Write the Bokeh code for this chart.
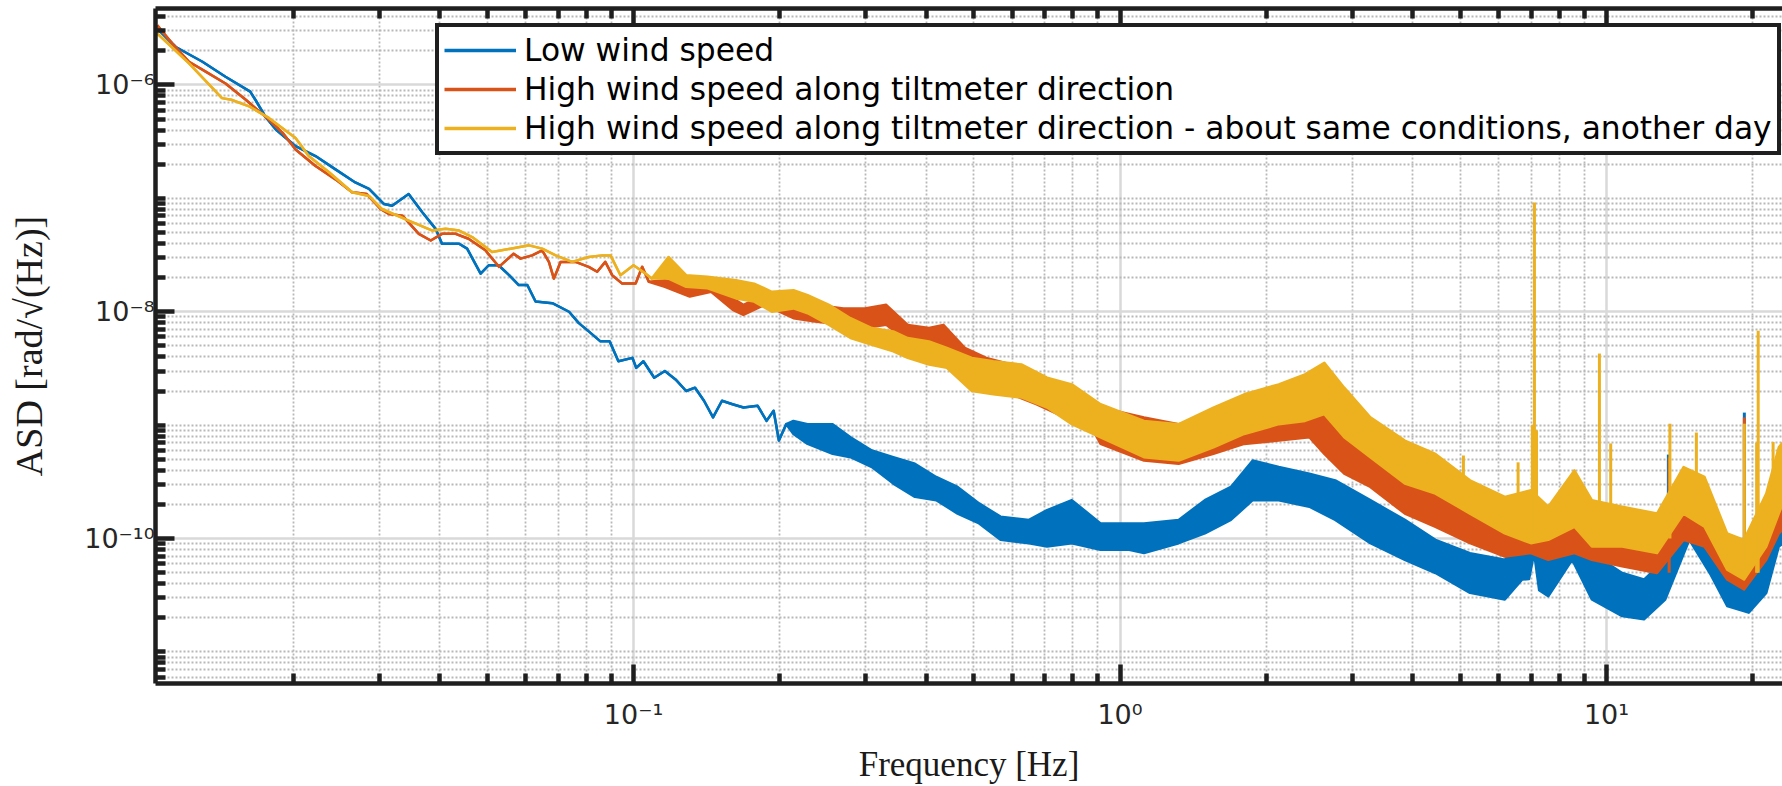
from bokeh.plotting import figure
from bokeh.models import (ColumnDataSource, FixedTicker, CustomJSTickFormatter,
                          LogAxis, Legend, LegendItem)
from bokeh.embed import file_html
from bokeh.resources import INLINE

# ---------------- data ----------------
series_names = [
    "Low wind speed",
    "High wind speed along tiltmeter direction",
    "High wind speed along tiltmeter direction - about same conditions, another day",
]
series_colors = ["#0072BD", "#D95319", "#EDB120"]

# Low wind speed: thin-line part (freq [Hz], ASD)
low_line_f = [0.0105, 0.01146, 0.0130, 0.0145, 0.0163, 0.0167, 0.0175, 0.0184, 0.0202, 0.0222,
              0.0244, 0.0268, 0.0286, 0.0307, 0.0319, 0.0345, 0.0368, 0.0392, 0.0404, 0.0438,
              0.0455, 0.0485, 0.0504, 0.0528, 0.0555, 0.0581, 0.0605, 0.0629, 0.0681, 0.0737,
              0.0772, 0.0809, 0.0855, 0.0893, 0.0931, 0.0995, 0.1013, 0.1048, 0.1103, 0.116,
              0.122, 0.1283, 0.1338, 0.1396, 0.1457, 0.152, 0.1598, 0.1683, 0.180, 0.1877,
              0.1941, 0.199, 0.206]
low_line_v = [3.13e-6, 2.16e-6, 1.60e-6, 1.18e-6, 8.73e-7, 7.40e-7, 5.28e-7, 4.04e-7, 2.88e-7, 2.36e-7,
              1.80e-7, 1.38e-7, 1.21e-7, 8.91e-8, 8.61e-8, 1.09e-7, 7.54e-8, 5.38e-8, 3.98e-8, 3.98e-8,
              3.60e-8, 2.17e-8, 2.57e-8, 2.57e-8, 2.10e-8, 1.72e-8, 1.72e-8, 1.23e-8, 1.19e-8, 1.00e-8,
              7.93e-9, 6.71e-9, 5.48e-9, 5.48e-9, 3.66e-9, 3.92e-9, 3.20e-9, 3.66e-9, 2.62e-9, 3.00e-9,
              2.53e-9, 2.00e-9, 2.14e-9, 1.64e-9, 1.17e-9, 1.64e-9, 1.53e-9, 1.43e-9, 1.48e-9, 1.09e-9,
              1.34e-9, 7.31e-10, 1.02e-9]
# Low wind speed: noisy band part (freq, upper edge, lower edge)
low_band_f = [0.2132, 0.228, 0.2566, 0.2793, 0.309, 0.342, 0.3788, 0.419, 0.4636, 0.5134,
              0.568, 0.650, 0.708, 0.796, 0.912, 1.044, 1.12, 1.32, 1.494, 1.69,
              1.874, 2.12, 2.45, 2.77, 3.27, 3.85, 4.45, 5.24, 6.18, 6.71,
              6.93, 7.10, 7.27, 7.59, 8.50, 9.33, 10.77, 11.94, 13.2, 14.8,
              16.3, 17.7, 19.6, 21.3, 22.6, 23.0]
low_band_hi = [1.09e-9, 1.02e-9, 1.02e-9, 7.82e-10, 5.97e-10, 5.22e-10, 4.56e-10, 3.49e-10, 2.85e-10, 2.04e-10,
               1.56e-10, 1.46e-10, 1.78e-10, 2.18e-10, 1.36e-10, 1.36e-10, 1.36e-10, 1.46e-10, 2.18e-10, 2.85e-10,
               4.88e-10, 4.27e-10, 3.73e-10, 3.26e-10, 2.18e-10, 1.46e-10, 9.74e-11, 7.44e-11, 6.50e-11, 9.74e-11,
               9.10e-11, 2.49e-10, 8.00e-11, 7.44e-11, 1.46e-10, 7.44e-11, 4.97e-11, 4.35e-11, 6.50e-11, 2.18e-10,
               1.11e-10, 4.35e-11, 3.80e-11, 7.44e-11, 1.91e-10, 2.20e-10]
low_band_lo = [8.36e-10, 6.83e-10, 5.58e-10, 5.22e-10, 4.27e-10, 3.05e-10, 2.33e-10, 2.18e-10, 1.66e-10, 1.36e-10,
               9.74e-11, 9.10e-11, 8.51e-11, 9.10e-11, 7.96e-11, 7.96e-11, 7.44e-11, 9.10e-11, 1.11e-10, 1.46e-10,
               2.18e-10, 2.18e-10, 1.91e-10, 1.46e-10, 9.10e-11, 6.50e-11, 4.97e-11, 3.32e-11, 2.90e-11, 4.35e-11,
               4.40e-11, 7.44e-11, 3.50e-11, 3.10e-11, 6.50e-11, 2.90e-11, 2.07e-11, 1.94e-11, 2.90e-11, 9.74e-11,
               4.97e-11, 2.54e-11, 2.22e-11, 3.32e-11, 8.51e-11, 9.00e-11]
low_spike_f = [13.4, 19.2]
low_spike_base = [5.0e-11, 5.0e-11]
low_spike_top = [5.5e-10, 1.29e-9]

# High wind speed
high_line_f = [0.0105, 0.01127, 0.0122, 0.0132, 0.0145, 0.01596, 0.0178, 0.0190, 0.0202, 0.0222,
               0.0244, 0.0264, 0.0283, 0.0302, 0.0314, 0.0335, 0.0362, 0.0383, 0.0404, 0.0431,
               0.0458, 0.0496, 0.0529, 0.0567, 0.0586, 0.0619, 0.0649, 0.0670, 0.0686, 0.0708,
               0.0760, 0.0809, 0.0842, 0.0875, 0.0904, 0.0948, 0.101, 0.1042, 0.1075]
high_line_v = [3.35e-6, 2.32e-6, 1.60e-6, 1.31e-6, 1.03e-6, 7.40e-7, 4.94e-7, 3.78e-7, 2.70e-7, 1.93e-7,
               1.47e-7, 1.13e-7, 1.09e-7, 8.05e-8, 7.28e-8, 7.04e-8, 4.86e-8, 4.25e-8, 4.86e-8, 4.86e-8,
               4.40e-8, 3.48e-8, 2.49e-8, 3.25e-8, 2.94e-8, 3.14e-8, 3.48e-8, 2.75e-8, 1.96e-8, 2.75e-8,
               2.75e-8, 2.49e-8, 2.25e-8, 2.75e-8, 2.10e-8, 1.77e-8, 1.77e-8, 2.49e-8, 1.84e-8]
high_band_f = [0.116, 0.1305, 0.1444, 0.160, 0.1682, 0.186, 0.2132, 0.236, 0.270, 0.2988,
               0.3307, 0.366, 0.405, 0.4335, 0.4797, 0.531, 0.5975, 0.6724, 0.770, 0.882,
               0.912, 1.12, 1.32, 1.556, 1.80, 2.12, 2.45, 2.63, 2.89, 3.27,
               3.85, 4.45, 5.24, 6.18, 6.99, 7.59, 8.59, 9.33, 10.77, 12.7,
               14.4, 15.9, 17.7, 19.17, 21.3, 22.6, 23.0]
high_band_hi = [1.90e-8, 1.72e-8, 1.90e-8, 1.31e-8, 1.15e-8, 1.40e-8, 1.23e-8, 1.15e-8, 1.07e-8, 1.07e-8,
                1.15e-8, 7.66e-9, 7.18e-9, 7.66e-9, 4.80e-9, 3.92e-9, 3.42e-9, 2.45e-9, 2.00e-9, 1.53e-9,
                1.43e-9, 1.17e-9, 1.02e-9, 1.17e-9, 1.25e-9, 1.34e-9, 1.53e-9, 1.25e-9, 9.55e-10, 6.38e-10,
                3.73e-10, 2.85e-10, 1.91e-10, 1.27e-10, 1.66e-10, 1.27e-10, 1.66e-10, 1.27e-10, 1.11e-10, 9.74e-11,
                2.18e-10, 1.66e-10, 7.44e-11, 6.50e-11, 1.46e-10, 2.49e-10, 2.60e-10]
high_band_lo = [1.66e-8, 1.36e-8, 1.50e-8, 1.04e-8, 9.38e-9, 1.15e-8, 8.77e-9, 8.20e-9, 7.66e-9, 7.18e-9,
                7.66e-9, 5.48e-9, 5.12e-9, 4.48e-9, 3.00e-9, 2.29e-9, 1.87e-9, 1.53e-9, 1.17e-9, 8.93e-10,
                6.83e-10, 4.88e-10, 4.56e-10, 5.58e-10, 6.83e-10, 7.31e-10, 7.82e-10, 5.58e-10, 3.73e-10, 2.85e-10,
                1.66e-10, 1.27e-10, 9.10e-11, 6.95e-11, 7.44e-11, 6.50e-11, 7.44e-11, 6.50e-11, 5.69e-11, 4.97e-11,
                9.74e-11, 8.51e-11, 4.35e-11, 3.56e-11, 6.50e-11, 1.11e-10, 1.20e-10]
high_spike_f = [13.45, 19.2]
high_spike_base = [5.0e-11, 4.0e-11]
high_spike_top = [5.2e-10, 1.17e-9]

# High wind speed, another day
day2_line_f = [0.0105, 0.0122, 0.01426, 0.0149, 0.01622, 0.0178, 0.0202, 0.0215, 0.0237, 0.0264,
               0.0286, 0.0304, 0.0345, 0.0386, 0.0411, 0.0438, 0.0466, 0.0512, 0.0559, 0.0610,
               0.0649, 0.0692, 0.0748, 0.0809, 0.0862, 0.0897, 0.0940, 0.100, 0.1058, 0.109]
day2_line_v = [2.84e-6, 1.55e-6, 7.65e-7, 7.40e-7, 6.46e-7, 5.12e-7, 3.41e-7, 2.36e-7, 1.69e-7, 1.13e-7,
               1.05e-7, 8.05e-8, 6.37e-8, 5.20e-8, 5.38e-8, 5.20e-8, 4.55e-8, 3.37e-8, 3.60e-8, 3.85e-8,
               3.60e-8, 3.14e-8, 2.75e-8, 3.04e-8, 3.14e-8, 3.14e-8, 2.10e-8, 2.57e-8, 2.17e-8, 1.96e-8]
day2_band_f = [0.118, 0.1283, 0.142, 0.1625, 0.177, 0.1925, 0.2132, 0.228, 0.2523, 0.2793,
               0.309, 0.342, 0.366, 0.405, 0.4406, 0.496, 0.549, 0.6284, 0.708, 0.796,
               0.912, 1.12, 1.32, 1.556, 1.80, 2.12, 2.40, 2.63, 2.89, 3.27,
               3.85, 4.45, 5.24, 6.18, 6.99, 7.59, 8.59, 9.33, 10.77, 12.7,
               14.4, 15.9, 17.7, 19.17, 21.3, 22.6, 23.0]
day2_band_hi = [3.04e-8, 2.10e-8, 2.03e-8, 1.90e-8, 1.77e-8, 1.50e-8, 1.55e-8, 1.40e-8, 1.15e-8, 8.77e-9,
                7.18e-9, 6.71e-9, 5.86e-9, 5.48e-9, 4.80e-9, 3.92e-9, 3.66e-9, 3.42e-9, 2.62e-9, 2.29e-9,
                1.53e-9, 1.09e-9, 1.02e-9, 1.43e-9, 1.87e-9, 2.29e-9, 2.80e-9, 3.54e-9, 2.14e-9, 1.17e-9,
                7.31e-10, 5.58e-10, 3.26e-10, 2.33e-10, 2.67e-10, 1.91e-10, 3.99e-10, 2.18e-10, 1.91e-10, 1.66e-10,
                4.27e-10, 3.49e-10, 1.11e-10, 9.74e-11, 2.49e-10, 6.38e-10, 7.00e-10]
day2_band_lo = [1.96e-8, 1.66e-8, 1.61e-8, 1.31e-8, 1.23e-8, 1.00e-8, 1.07e-8, 9.70e-9, 7.66e-9, 5.86e-9,
                5.12e-9, 4.48e-9, 3.92e-9, 3.42e-9, 3.20e-9, 2.00e-9, 1.87e-9, 1.75e-9, 1.43e-9, 1.02e-9,
                7.82e-10, 5.22e-10, 4.88e-10, 6.38e-10, 8.36e-10, 1.02e-9, 1.09e-9, 1.25e-9, 7.82e-10, 5.22e-10,
                3.05e-10, 2.49e-10, 1.66e-10, 1.11e-10, 9.10e-11, 9.74e-11, 1.27e-10, 8.51e-11, 8.51e-11, 7.44e-11,
                1.66e-10, 1.27e-10, 5.32e-11, 4.35e-11, 8.51e-11, 1.66e-10, 2.00e-10]
day2_spike_f = [5.08, 6.58, 7.04, 7.11, 7.18, 9.67, 10.2, 13.5, 15.3, 19.2, 20.35, 20.5, 22.0]
day2_spike_base = [2.0e-10, 1.5e-10, 1.0e-10, 1.0e-10, 1.0e-10, 1.0e-10, 1.0e-10, 1.0e-10, 1.5e-10,
                   5.0e-11, 5.0e-11, 5.0e-11, 2.0e-10]
day2_spike_top = [5.4e-10, 4.7e-10, 1.0e-9, 9.2e-8, 9.0e-10, 4.28e-9, 6.9e-10, 1.03e-9, 8.6e-10,
                  1.03e-9, 7.0e-10, 6.8e-9, 7.1e-10]

# axes
x_limits = (0.01041, 23.0)
y_limits = (5.27e-12, 4.72e-6)
x_major = [0.1, 1.0, 10.0]
x_major_labels = ["10\u207b\u00b9", "10\u2070", "10\u00b9"]
y_major = [1e-10, 1e-8, 1e-6]
y_major_labels = ["10\u207b\u00b9\u2070", "10\u207b\u2078", "10\u207b\u2076"]
x_label = "Frequency [Hz]"
y_label = "ASD [rad/\u221a(Hz)]"

x_minor = [k * 10.0 ** e for e in range(-2, 2) for k in range(1, 10)
           if not any(abs(k * 10.0 ** e - m) < 1e-12 for m in x_major)]
y_minor = [k * 10.0 ** e for e in range(-12, -5) for k in range(1, 10)
           if not any(abs(k * 10.0 ** e / m - 1) < 1e-9 for m in y_major)]

# ---------------- figure ----------------
p = figure(width=1782, height=786, x_axis_type="log", y_axis_type="log",
           x_range=x_limits, y_range=y_limits,
           output_backend="svg", toolbar_location=None,
           min_border_left=155, min_border_right=0, min_border_top=8, min_border_bottom=98,
           styles={"vertical-align": "top"})
p.outline_line_color = None
p.background_fill_color = "white"
p.border_fill_color = "white"

AX = "#1f1f1f"


def fmt(vals, labs):
    return CustomJSTickFormatter(args=dict(vals=vals, labs=labs), code="""
        const i = vals.findIndex(v => Math.abs(Math.log10(v) - Math.log10(tick)) < 1e-6);
        return i >= 0 ? labs[i] : "";
    """)


def style_axis(ax):
    ax.axis_line_color = AX
    ax.axis_line_width = 4.5
    ax.major_tick_line_color = AX
    ax.major_tick_line_width = 4.5
    ax.minor_tick_line_color = AX
    ax.minor_tick_line_width = 4.5
    ax.major_tick_in = 19
    ax.major_tick_out = 0
    ax.minor_tick_in = 10
    ax.minor_tick_out = 0
    ax.major_label_text_font = "DejaVu Sans"
    ax.major_label_text_font_size = "27px"
    ax.major_label_text_color = "#262626"
    ax.axis_label_text_font = "Liberation Serif"
    ax.axis_label_text_font_size = "35px"
    ax.axis_label_text_font_style = "normal"
    ax.axis_label_text_color = "#1a1a1a"


xt = FixedTicker(ticks=x_major, minor_ticks=x_minor)
yt = FixedTicker(ticks=y_major, minor_ticks=y_minor)

xa = p.xaxis[0]
xa.ticker = xt
xa.formatter = fmt(x_major, x_major_labels)
style_axis(xa)
xa.axis_label = x_label
xa.major_label_standoff = 15
xa.axis_label_standoff = 12

ya = p.yaxis[0]
ya.ticker = yt
ya.formatter = fmt(y_major, y_major_labels)
style_axis(ya)
ya.axis_label = y_label
ya.axis_label_text_font_size = "38px"
ya.major_label_standoff = 1
ya.axis_label_standoff = 31

top = LogAxis(ticker=xt, formatter=fmt([], []))
style_axis(top)
top.major_label_text_font_size = "0px"
top.major_label_standoff = 0
p.add_layout(top, "above")

for g in (p.xgrid[0], p.ygrid[0]):
    g.grid_line_color = "#d9d9d9"
    g.grid_line_width = 2.5
    g.minor_grid_line_color = "#b8b8b8"
    g.minor_grid_line_width = 1.8
    g.minor_grid_line_dash = "2 2"

# ---------------- series ----------------
series = [
    (low_line_f, low_line_v, low_band_f, low_band_hi, low_band_lo, low_spike_f, low_spike_base, low_spike_top),
    (high_line_f, high_line_v, high_band_f, high_band_hi, high_band_lo, high_spike_f, high_spike_base, high_spike_top),
    (day2_line_f, day2_line_v, day2_band_f, day2_band_hi, day2_band_lo, day2_spike_f, day2_spike_base, day2_spike_top),
]

items = []
for (lf, lv, bf, bh, bl, sf, sb, st), name, col in zip(series, series_names, series_colors):
    f = lf + bf
    hi = lv + bh
    lo = lv + bl
    src = ColumnDataSource(dict(f=f, hi=hi, lo=lo))
    p.varea(x="f", y1="lo", y2="hi", source=src, fill_color=col, fill_alpha=1.0)
    p.line(x="f", y="hi", source=src, line_color=col, line_width=2.5, line_join="round")
    p.line(x="f", y="lo", source=src, line_color=col, line_width=2.5, line_join="round")
    ssrc = ColumnDataSource(dict(f=sf, b=sb, t=st))
    p.segment(x0="f", y0="b", x1="f", y1="t", source=ssrc, line_color=col, line_width=3)
    # legend sample: the series' first point only (draws nothing in the plot), thicker line style
    r_leg = p.line(x=lf[:1], y=lv[:1], line_color=col, line_width=3.5)
    items.append(LegendItem(label=name, renderers=[r_leg]))

legend = Legend(items=items, location=(280, 528))
legend.label_text_font = "DejaVu Sans"
legend.label_text_font_size = "31.3px"
legend.label_text_color = "black"
legend.glyph_width = 72
legend.glyph_height = 36
legend.label_height = 36
legend.label_standoff = 8
legend.spacing = 3
legend.padding = 5
legend.margin = 0
legend.border_line_color = AX
legend.border_line_width = 4
legend.border_line_alpha = 1.0
legend.background_fill_color = "white"
legend.background_fill_alpha = 1.0
p.add_layout(legend)

open("out.html", "w").write(file_html(p, INLINE))
